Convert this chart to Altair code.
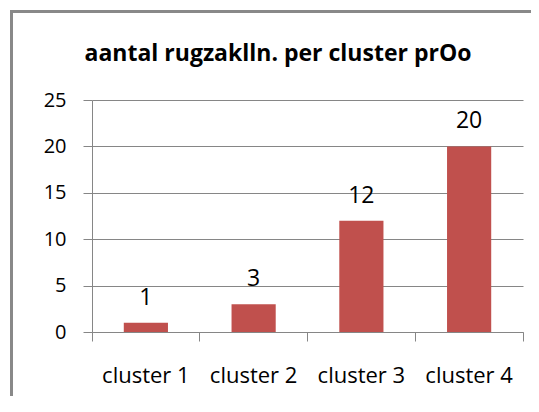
import altair as alt
import pandas as pd

categories = ["cluster 1", "cluster 2", "cluster 3", "cluster 4"]
values = [1, 3, 12, 20]
y_ticks = [0, 5, 10, 15, 20, 25]
title_text = "aantal rugzaklln. per cluster prOo"

df = pd.DataFrame({"cluster": categories, "aantal": values})

FONT = "Open Sans"
GRID = "#868686"
BAR = "#C0504D"
FRAME = "#898989"

x_enc = alt.X(
    "cluster:N",
    sort=categories,
    scale=alt.Scale(paddingInner=0, paddingOuter=0),
    axis=alt.Axis(
        title=None,
        labelAngle=0,
        labelFont=FONT,
        labelFontSize=22,
        labelColor="#000000",
        labelBaseline="alphabetic",
        labelPadding=41,
        bandPosition=1,
        tickExtra=True,
        ticks=True,
        tickSize=9,
        tickColor=GRID,
        domainColor=GRID,
        grid=False,
    ),
)
y_enc = alt.Y(
    "aantal:Q",
    scale=alt.Scale(domain=[0, 25], nice=False),
    axis=alt.Axis(
        title=None,
        values=y_ticks,
        labelFont=FONT,
        labelFontSize=20,
        labelColor="#000000",
        labelPadding=17,
        tickSize=9,
        tickColor=GRID,
        domainColor=GRID,
        gridColor=GRID,
        gridWidth=1,
    ),
)

bars = alt.Chart(df).mark_bar(color=BAR, width=alt.RelativeBandSize(0.41)).encode(
    x=x_enc, y=y_enc
)
labels = alt.Chart(df).mark_text(
    font=FONT, fontSize=23, color="#000000", baseline="alphabetic", dy=-18
).encode(x=alt.X("cluster:N", sort=categories), y="aantal:Q", text="aantal:Q")

one = alt.Data(values=[{"a": 1}])
frame_top = alt.Chart(one).mark_rule(stroke=FRAME, strokeWidth=3).encode(
    x=alt.value(-82), x2=alt.value(439), y=alt.value(-88.5)
)
frame_left = alt.Chart(one).mark_rule(stroke=FRAME, strokeWidth=3).encode(
    x=alt.value(-80.5), y=alt.value(-90), y2=alt.value(296)
)
title = alt.Chart(one).mark_text(
    font=FONT, fontSize=23, fontWeight="bold", color="#000000",
    align="center", baseline="alphabetic",
).encode(x=alt.value(186), y=alt.value(-39), text=alt.value(title_text))

chart = alt.layer(frame_top, frame_left, title, bars, labels).properties(
    width=431,
    height=232,
    autosize=alt.AutoSizeParams(type="none"),
    padding={"left": 84, "top": 92, "right": 8, "bottom": 64},
).configure_view(strokeWidth=0)

chart.save("out.html", embed_options={"renderer": "svg", "actions": False})
